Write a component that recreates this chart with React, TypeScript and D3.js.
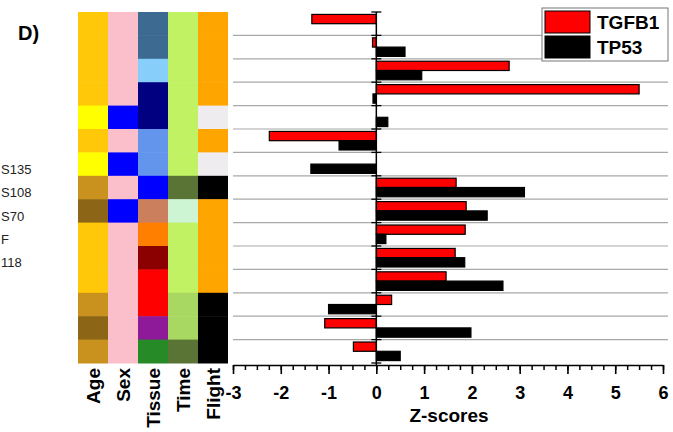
import React, { useEffect, useRef } from 'react'
import * as d3 from 'd3'

// z-scores per sample row (top to bottom)
const rows = d3.range(15)
const tgfb1 = [-1.35, -0.08, 2.78, 5.5, 0, -2.24, 0, 1.67, 1.88, 1.86, 1.65, 1.46, 0.32, -1.08, -0.48]
const tp53 = [0, 0.6, 0.95, -0.07, 0.24, -0.78, -1.37, 3.1, 2.32, 0.2, 1.85, 2.65, -1.0, 1.98, 0.5]
const series = ['TGFB1', 'TP53']

// sample annotation (heatmap) columns
const annotCols = ['Age', 'Sex', 'Tissue', 'Time', 'Flight']
const age = ['g1', 'g1', 'g1', 'g1', 'g2', 'g1', 'g2', 'g3', 'g4', 'g1', 'g1', 'g1', 'g3', 'g4', 'g3']
const sex = ['F', 'F', 'F', 'F', 'M', 'F', 'M', 'F', 'M', 'F', 'F', 'F', 'F', 'F', 'F']
const tissue = ['t1', 't1', 't2', 't3', 't3', 't4', 't4', 't5', 't6', 't7', 't8', 't9', 't9', 't10', 't11']
const time = ['d1', 'd1', 'd1', 'd1', 'd1', 'd1', 'd1', 'd2', 'd3', 'd1', 'd1', 'd1', 'd4', 'd4', 'd2']
const flight = ['f1', 'f1', 'f1', 'f1', 'f2', 'f1', 'f2', 'f3', 'f1', 'f1', 'f1', 'f1', 'f3', 'f3', 'f3']

// sample labels on the far left
const sideLabels = ['S135', 'S108', 'S70', 'F', '118']
const sideRows = [7, 8, 9, 10, 11]

const xTicks = d3.range(-3, 7, 1)

export default function App() {
  const node = useRef<SVGSVGElement>(null)

  useEffect(() => {
    const svg = d3.select(node.current)
    svg.selectAll('*').remove()
    const font = 'Liberation Sans, Arial, sans-serif'

    const top = 12
    const bottom = 363
    const axisY = 365

    const y = d3.scaleBand<number>().domain(rows).range([top, bottom])
    const ySub = d3.scaleBand<string>().domain(series).range([0, y.bandwidth()]).paddingOuter(0.26)
    const x = d3.scaleLinear().domain([-3, 6]).range([233, 663])
    const cx = d3.scaleBand<string>().domain(annotCols).range([78, 228])

    const colorScales: Record<string, d3.ScaleOrdinal<string, string>> = {
      Age: d3.scaleOrdinal<string, string>().domain(['g1', 'g2', 'g3', 'g4']).range(['#ffc808', '#ffff00', '#c9921e', '#8c6616']),
      Sex: d3.scaleOrdinal<string, string>().domain(['F', 'M']).range(['#fbbecb', '#0000ff']),
      Tissue: d3.scaleOrdinal<string, string>()
        .domain(['t1', 't2', 't3', 't4', 't5', 't6', 't7', 't8', 't9', 't10', 't11'])
        .range(['#3c6a90', '#87cefa', '#000080', '#6495ed', '#0000ff', '#cc7f5c', '#ff7f00', '#8b0000', '#ff0000', '#8e1a9a', '#268b26']),
      Time: d3.scaleOrdinal<string, string>().domain(['d1', 'd2', 'd3', 'd4']).range(['#c0f264', '#5a7436', '#cdf5d4', '#a8d862']),
      Flight: d3.scaleOrdinal<string, string>().domain(['f1', 'f2', 'f3']).range(['#ffa500', '#efecef', '#000000']),
    }
    const annot: Record<string, string[]> = { Age: age, Sex: sex, Tissue: tissue, Time: time, Flight: flight }

    svg.append('rect').attr('width', 673).attr('height', 432).attr('fill', '#fff')

    // panel letter
    svg.append('text')
      .attr('x', 18).attr('y', 40)
      .attr('font-family', font).attr('font-weight', 'bold').attr('font-size', 20)
      .text('D)')

    // side labels
    svg.selectAll('.side')
      .data(sideLabels)
      .enter()
      .append('text')
      .attr('x', 1)
      .attr('y', (d, i) => y(sideRows[i])! - 2)
      .attr('font-family', font).attr('font-size', 13).attr('fill', '#222')
      .text(d => d)

    // heatmap
    annotCols.forEach(col => {
      svg.append('g')
        .selectAll('rect')
        .data(rows)
        .enter()
        .append('rect')
        .attr('x', cx(col)!)
        .attr('y', d => y(d)!)
        .attr('width', cx.bandwidth())
        .attr('height', y.bandwidth() + 0.5)
        .attr('fill', d => colorScales[col](annot[col][d]))
    })

    svg.append('g')
      .selectAll('text')
      .data(annotCols)
      .enter()
      .append('text')
      .attr('transform', d => `translate(${cx(d)! + cx.bandwidth() / 2}, 368) rotate(-90)`)
      .attr('dy', '0.36em')
      .attr('text-anchor', 'end')
      .attr('font-family', font).attr('font-weight', 'bold').attr('font-size', 19)
      .text(d => d)

    // gridlines between rows
    svg.append('g')
      .selectAll('line')
      .data(rows.slice(1))
      .enter()
      .append('line')
      .attr('x1', 233).attr('x2', 668)
      .attr('y1', d => y(d)!).attr('y2', d => y(d)!)
      .attr('stroke', '#a8a8a8').attr('stroke-width', 1.2)

    // bars
    const values: Record<string, number[]> = { TGFB1: tgfb1, TP53: tp53 }
    const fills: Record<string, string> = { TGFB1: '#ff0000', TP53: '#000000' }
    series.forEach(s => {
      svg.append('g')
        .selectAll('rect')
        .data(rows.filter(r => values[s][r] !== 0))
        .enter()
        .append('rect')
        .attr('x', d => x(Math.min(0, values[s][d])))
        .attr('y', d => y(d)! + ySub(s)!)
        .attr('width', d => Math.abs(x(values[s][d]) - x(0)))
        .attr('height', ySub.bandwidth())
        .attr('fill', fills[s])
        .attr('stroke', '#000').attr('stroke-width', 1.2)
    })

    // zero line with row ticks
    svg.append('line')
      .attr('x1', x(0)).attr('x2', x(0)).attr('y1', top).attr('y2', axisY)
      .attr('stroke', '#000').attr('stroke-width', 1.5)
    svg.append('g')
      .selectAll('line')
      .data(rows.concat([15]))
      .enter()
      .append('line')
      .attr('x1', x(0) - 5).attr('x2', x(0) + 5)
      .attr('y1', d => (d === 15 ? bottom : y(d)!)).attr('y2', d => (d === 15 ? bottom : y(d)!))
      .attr('stroke', '#000').attr('stroke-width', 1.3)

    // x axis
    const minor = svg.append('g')
      .attr('transform', `translate(0, ${axisY})`)
      .call(d3.axisBottom(x).tickValues(d3.range(-3, 6.001, 0.25)).tickSize(5).tickSizeOuter(0).tickFormat(() => ''))
    minor.selectAll('line').attr('stroke-width', 1.5)
    minor.select('.domain').attr('stroke-width', 1.6)

    const major = svg.append('g')
      .attr('transform', `translate(0, ${axisY})`)
      .call(d3.axisBottom(x).tickValues(xTicks).tickSize(9).tickSizeOuter(0).tickFormat(d => String(d)))
    major.select('.domain').remove()
    major.selectAll('line').attr('stroke-width', 1.6)
    major.selectAll('text')
      .attr('y', 21)
      .attr('dy', '0.71em')
      .attr('font-family', font).attr('font-weight', 'bold').attr('font-size', 18)
      .attr('fill', '#000')

    svg.append('text')
      .attr('x', 449).attr('y', 422)
      .attr('text-anchor', 'middle')
      .attr('font-family', font).attr('font-weight', 'bold').attr('font-size', 19)
      .text('Z-scores')

    // legend
    const lg = svg.append('g')
    lg.append('rect')
      .attr('x', 542).attr('y', 8).attr('width', 126).attr('height', 53)
      .attr('fill', '#fff').attr('stroke', '#777').attr('stroke-width', 1)
    series.forEach((s, i) => {
      lg.append('rect')
        .attr('x', 545).attr('y', 11 + i * 25).attr('width', 45).attr('height', 22)
        .attr('fill', fills[s]).attr('stroke', '#000').attr('stroke-width', 1)
      lg.append('text')
        .attr('x', 597).attr('y', 29 + i * 25)
        .attr('font-family', font).attr('font-weight', 'bold').attr('font-size', 19)
        .text(s)
    })
  }, [])

  return (
    <svg ref={node} width={673} height={432}
      style={{ position: 'absolute', left: 0, top: 0, display: 'block' }} />
  )
}
